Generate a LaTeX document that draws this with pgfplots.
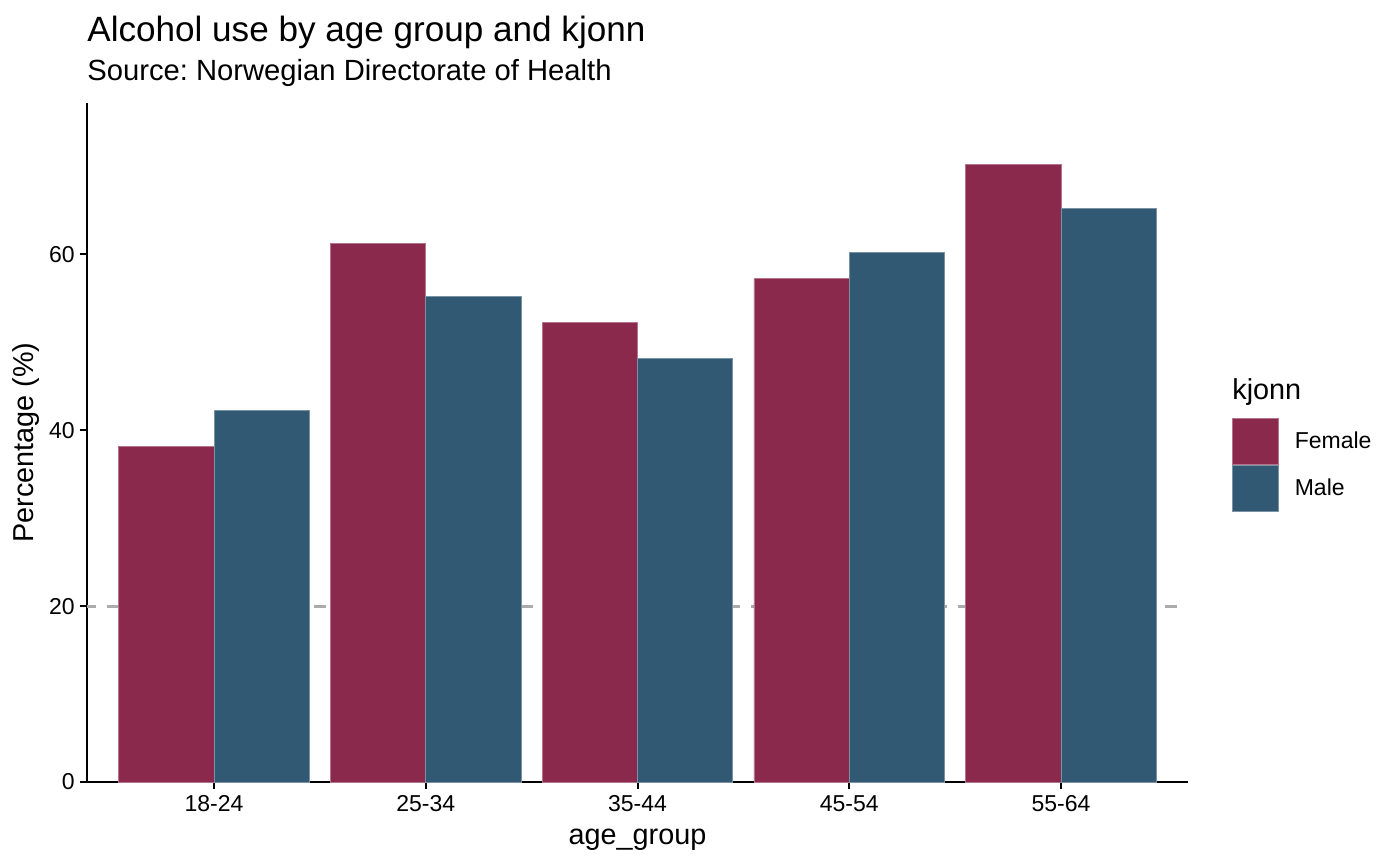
\documentclass[border=0pt]{standalone}
\usepackage{fontspec}
\setmainfont{Liberation Sans}
\usepackage{pgfplots}
\pgfplotsset{compat=1.18}
\definecolor{fem}{RGB}{139,41,76}
\definecolor{mal}{RGB}{50,89,115}
\definecolor{refl}{RGB}{171,171,171}
\frenchspacing
\begin{document}
\begin{tikzpicture}
\useasboundingbox (-43.5pt,-42pt) rectangle (656.5pt,391pt);
\begin{axis}[
  at={(0,0)}, anchor=south west,
  scale only axis, width=550.5pt, height=339.5pt,
  xmin=-0.6, xmax=4.6, ymin=0, ymax=77.2,
  axis x line=bottom, axis y line=left,
  axis line style={-, line width=1pt, black},
  xtick={0,1,2,3,4},
  xticklabels={18-24,25-34,35-44,45-54,55-64},
  ytick={0,20,40,60},
  tick align=outside, major tick length=3.5pt,
  tick style={line width=1pt, black},
  x tick label style={inner sep=0pt, yshift=-3pt},
  y tick label style={inner sep=0pt, xshift=-2.5pt},
  ticklabel style={font=\fontsize{11.5pt}{13pt}\selectfont},
  /pgf/number format/assume math mode=true,
  xlabel={age\_group}, ylabel={Percentage (\%)},
  xlabel style={at={(axis description cs:0.5,-0.09278)}, anchor=base, inner sep=0pt, font=\fontsize{14.4pt}{17pt}\selectfont},
  ylabel style={at={(axis description cs:-0.04814,0.5)}, anchor=base, inner sep=0pt, font=\fontsize{14.4pt}{17pt}\selectfont},
  legend cell align=left,
  legend image code/.code={\draw[#1, line width=0.4pt] (0pt,-11.5pt) rectangle (23pt,11.5pt);},
  legend style={at={(axis description cs:1.03996,0.53608)}, anchor=north west,
    draw=none, fill=none, inner sep=0pt, outer sep=0pt, row sep=0pt, column sep=8pt,
    nodes={inner sep=0pt, outer sep=0pt, font=\fontsize{11.5pt}{13pt}\selectfont}},
  clip=false,
]
\addplot[forget plot, draw=refl, line width=1.5pt, dash pattern=on 6pt off 5.5pt, dash phase=1.5pt, mark=none] coordinates {(-0.6,20) (4.6,20)};
\addplot[ybar, bar width=0.45, bar shift=-0.225, fill=fem, draw=fem!65!white, line width=0.4pt] coordinates {(0,38.2) (1,61.2) (2,52.2) (3,57.2) (4,70.2)};
\addlegendentry{Female}
\addplot[ybar, bar width=0.45, bar shift=0.225, fill=mal, draw=mal!65!white, line width=0.4pt] coordinates {(0,42.2) (1,55.2) (2,48.2) (3,60.2) (4,65.2)};
\addlegendentry{Male}
\node[anchor=base west, inner sep=0pt, font=\fontsize{17.55pt}{20pt}\selectfont] at (axis description cs:0,1.08984) {Alcohol use by age group and kjonn};
\node[anchor=base west, inner sep=0pt, font=\fontsize{14.6pt}{17pt}\selectfont] at (axis description cs:0,1.03240) {Source: Norwegian Directorate of Health};
\node[anchor=base west, inner sep=0pt, font=\fontsize{14.4pt}{17pt}\selectfont] at (axis description cs:1.03996,0.56259) {kjonn};
\end{axis}
\end{tikzpicture}
\end{document}
